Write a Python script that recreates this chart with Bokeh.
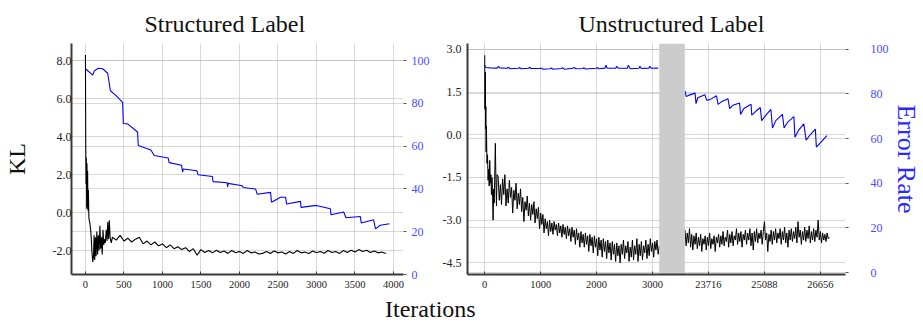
from bokeh.plotting import figure
from bokeh.models import Range1d, LinearAxis, FixedTicker, PrintfTickFormatter, Grid, Div
from bokeh.layouts import row, column
from bokeh.embed import file_html
from bokeh.resources import INLINE

FONT = "Liberation Serif"
GRID_C = "#b0b0b0"
BLUE = "#0000ff"
BLUE_TXT = "#4a4aff"

# ---------------- data: Structured Label ----------------
left_xticks = [0, 500, 1000, 1500, 2000, 2500, 3000, 3500, 4000]
left_kl_ticks = [-2, 0, 2, 4, 6, 8]
err_ticks = [0, 20, 40, 60, 80, 100]

s_err_x = [0, 95, 117, 168, 224, 289, 324, 397, 483, 492, 548, 677, 686, 850, 893,
           1074, 1087, 1247, 1262, 1269, 1446, 1463, 1648, 1657, 1842, 1846, 1852,
           2037, 2048, 2209, 2231, 2404, 2416, 2533, 2600, 2611, 2792, 2800, 2999,
           3180, 3189, 3353, 3383, 3569, 3582, 3741, 3767, 3827, 3948]
s_err_y = [96.2, 93.2, 95.3, 96.4, 96.2, 94.1, 85.9, 83.6, 80.5, 70.6, 70.4, 66.6, 60.3, 58.2, 55.6,
           54.5, 52.3, 51.1, 47.8, 49.3, 48.5, 46.6, 45.8, 43.4, 42.9, 40.9, 42.6,
           41.5, 40.7, 40.0, 37.5, 38.4, 33.8, 36.1, 36.1, 33.0, 34.2, 31.4, 32.3,
           30.7, 27.9, 29.2, 26.5, 27.1, 24.1, 25.6, 21.3, 23.0, 23.7]

s_kl_x = [0, 4, 8, 12, 16, 20, 24, 28, 33, 38, 45, 55, 65, 75, 85, 95, 105, 112, 120, 130,
          138, 148, 158, 168, 178, 188, 198, 208, 218, 228, 238, 248, 258, 270, 280, 290,
          300, 310, 320, 335] + list(range(350, 3901, 50))
s_kl_y = [8.3, 3.5, 1.5, 2.9, 0.2, 2.6, 0.3, 2.2, 0.1, 1.2, -0.3, -0.5, -0.8, -1.3, -2.1, -2.6, -2.3, -1.2, -2.5, -1.3,
          -2.3, -1.0, -2.2, -1.2, -2.0, -0.7, -1.9, -1.3, -2.2, -0.9, -1.7, -1.4, -1.6, -0.9, -1.5, -0.5,
          -1.4, -0.4, -1.3, -1.6,
          -1.30, -1.45, -1.20, -1.50, -1.35, -1.55, -1.40, -1.30, -1.65, -1.50, -1.70, -1.55, -1.75, -1.65,
          -1.85, -1.70, -1.90, -1.80, -1.95, -1.85, -2.05, -1.90, -2.25, -1.95, -2.10, -2.00,
          -2.12, -1.98, -2.10, -2.02, -2.15, -2.00, -2.12, -2.05, -2.15, -2.00, -2.12, -2.08,
          -2.18, -2.15, -2.05, -2.15, -2.02, -2.12, -2.08, -2.18, -2.05, -2.15, -2.00, -2.12,
          -2.08, -2.15, -2.02, -2.12, -2.05, -2.14, -2.00, -2.10, -2.05, -2.15, -2.00, -2.10,
          -1.98, -2.08, -1.95, -2.05, -1.98, -2.10, -2.02, -2.12, -2.08, -2.15]

# ---------------- data: Unstructured Label (broken x axis) ----------------
# positions on the broken axis; tick labels give the iteration numbers
right_xticks = [0, 1000, 2000, 3000, 4000, 5000, 6000]
right_xlabels = ["0", "1000", "2000", "3000", "23716", "25088", "26656"]
right_kl_ticks = [-4.5, -3.0, -1.5, 0.0, 1.5, 3.0]
gap_start, gap_end = 3120, 3576

u_err1_x = [0, 15, 100, 224, 240, 270, 401, 420, 450, 607, 620, 650, 784, 800, 830, 990, 1010, 1040,
            1167, 1190, 1220, 1373, 1390, 1420, 1579, 1600, 1630, 1756, 1770, 1800, 1992, 2010, 2040,
            2151, 2165, 2190, 2345, 2360, 2390, 2552, 2565, 2600, 2758, 2772, 2800, 2935, 2950, 2980, 3100]
u_err1_y = [92.8, 91.8, 91.6, 91.5, 92.2, 91.6, 91.4, 91.9, 91.2, 91.4, 91.8, 91.2, 91.4, 91.9, 91.3, 91.3, 91.6, 91.0,
            91.2, 91.6, 91.0, 91.3, 91.7, 91.0, 91.4, 91.8, 91.2, 91.3, 91.7, 91.1, 91.4, 91.8, 91.2,
            91.5, 92.8, 91.4, 91.5, 92.3, 91.4, 91.5, 92.8, 91.2, 91.4, 92.4, 91.3, 91.5, 92.3, 91.4, 91.5]

u_err2_x = [3580, 3600, 3642, 3760, 3777, 3807, 3936, 3966, 4025, 4143, 4172, 4231, 4349, 4378, 4437,
            4555, 4573, 4632, 4761, 4773, 4850, 4926, 4950, 5027, 5115, 5144, 5203, 5321, 5351, 5410,
            5527, 5545, 5616, 5704, 5745, 5822, 5910, 5928, 6028, 6117]
u_err2_y = [81.3, 78.8, 79.3, 80.3, 75.6, 78.2, 79.6, 77.1, 77.4, 79.1, 75.3, 76.4, 77.8, 73.4, 74.9,
            75.9, 70.8, 73.4, 75.3, 70.5, 72.3, 73.9, 68.0, 70.5, 73.0, 64.7, 68.0, 70.8, 64.7, 67.2,
            69.8, 60.6, 63.9, 66.6, 59.3, 61.8, 64.2, 56.2, 58.8, 61.3]

u_kl1_x = [0, 5, 10, 15, 20, 25, 30, 40, 50, 60, 70, 80, 90, 100, 110, 120, 130, 140, 150, 160,
           170, 180, 190, 200, 210, 220] + list(range(240, 3121, 20))
u_kl1_y = [2.8, 0.9, 2.2, 0.2, 1.0, -0.6, 0.3, -1.0, -0.7, -1.6, -1.2, -1.8, -0.9, -1.7, -1.4, -2.1, -1.5, -2.2, -3.0, -1.9,
           -2.4, -1.3, -0.3, -1.6, -2.5, -1.4,
           -1.45, -2.30, -1.75, -2.45, -1.55, -2.10, -1.40, -2.50, -1.90, -2.40,
           -1.60, -2.20, -1.85, -2.75, -1.95, -2.30, -1.70, -2.60, -2.05, -2.45,
           -1.90, -2.70, -2.20, -3.05, -2.35, -2.65, -2.15, -2.85, -2.40, -3.00,
           -2.45, -2.80, -2.35, -3.10, -2.60, -2.95, -2.55, -3.30, -2.75, -3.15,
           -2.80, -3.45, -2.95, -3.30, -3.05, -3.55, -3.00, -3.40, -3.10, -3.50,
           -3.05, -3.35, -3.15, -3.55, -3.10, -3.45, -3.20, -3.60, -3.15, -3.50,
           -3.25, -3.65, -3.20, -3.55, -3.30, -3.75, -3.25, -3.60, -3.35, -3.85,
           -3.30, -3.70, -3.45, -3.95, -3.40, -3.80, -3.50, -3.95, -3.45, -3.85,
           -3.55, -4.10, -3.50, -3.90, -3.60, -4.15, -3.55, -3.95, -3.65, -4.25,
           -3.60, -4.05, -3.70, -4.30, -3.65, -4.10, -3.75, -4.35, -3.70, -4.15,
           -3.80, -4.40, -3.75, -4.20, -3.85, -4.45, -3.80, -4.25, -3.90, -4.50,
           -3.85, -4.20, -3.70, -4.35, -3.90, -4.15, -3.75, -4.45, -3.95, -4.30,
           -3.70, -4.40, -3.90, -4.20, -3.65, -4.45, -3.85, -4.25, -3.75, -4.40,
           -3.90, -4.15, -3.70, -4.35, -3.85, -4.25, -3.65, -4.10, -3.80, -4.30,
           -3.75, -4.05, -3.70, -4.20, -3.90]

u_kl2_x = list(range(3580, 6161, 20))
u_kl2_y = [-3.35, -3.90, -3.45, -3.80, -3.30, -3.95, -3.50, -4.05, -3.55, -3.85,
           -3.45, -4.00, -3.60, -3.90, -3.50, -4.10, -3.65, -3.85, -3.55, -4.05,
           -3.60, -3.90, -3.45, -4.00, -3.65, -3.85, -3.55, -4.10, -3.60, -3.80,
           -3.50, -3.95, -3.55, -3.85, -3.40, -3.90, -3.60, -3.75, -3.35, -3.95,
           -3.50, -3.80, -3.40, -3.90, -3.55, -3.70, -3.30, -3.85, -3.45, -3.75,
           -3.40, -3.95, -3.50, -3.70, -3.35, -3.85, -3.45, -3.70, -3.30, -3.90,
           -3.45, -4.05, -3.40, -3.75, -3.30, -3.80, -3.45, -3.65, -3.35, -3.85,
           -3.40, -3.05, -3.70, -3.45, -4.10, -3.50, -3.75, -3.35, -3.85, -3.40,
           -3.70, -3.30, -3.80, -3.45, -3.65, -3.30, -3.85, -3.40, -3.70, -3.25,
           -3.80, -3.45, -3.95, -3.35, -3.70, -3.30, -3.75, -3.40, -3.65, -3.25,
           -3.80, -3.05, -3.60, -3.35, -3.85, -3.40, -3.70, -3.25, -3.75, -3.35,
           -3.65, -3.20, -3.80, -3.40, -3.70, -3.30, -3.75, -3.35, -3.60, -3.00,
           -3.70, -3.40, -3.80, -3.45, -3.70, -3.50, -3.75, -3.45, -3.65, -3.60]


def make_fig(title, width, x_rng, y_rng, err_rng, xticks, kl_ticks, b_left, b_right,
             right_standoff, title_offset):
    p = figure(width=width, height=295, x_range=Range1d(*x_rng), y_range=Range1d(*y_rng),
               output_backend="svg", toolbar_location=None,
               min_border_left=b_left, min_border_right=b_right, min_border_top=43, min_border_bottom=21)
    p.outline_line_color = None
    p.background_fill_color = "white"
    p.title.text = title
    p.title.align = "left"
    p.title.offset = title_offset
    p.title.text_font = FONT
    p.title.text_font_size = "24px"
    p.title.text_font_style = "normal"
    p.title.text_color = "#111111"
    p.title.standoff = 14
    p.extra_y_ranges = {"err": Range1d(*err_rng)}

    xax = p.below[0]
    yax = p.left[0]
    xt = FixedTicker(ticks=xticks)
    xax.ticker = xt
    p.xgrid.ticker = xt
    kt = FixedTicker(ticks=kl_ticks)
    yax.ticker = kt
    p.ygrid.ticker = kt
    yax.formatter = PrintfTickFormatter(format="%.1f")

    for ax in (xax, yax):
        ax.axis_line_color = "#3a3a3a"
        ax.axis_line_width = 2
        ax.major_label_text_font = FONT
        ax.major_label_text_color = "#222222"
        ax.minor_tick_line_color = None
        ax.minor_tick_in = 0
        ax.minor_tick_out = 0
    xax.major_label_text_font_size = "10.5px"
    yax.major_label_text_font_size = "12px"
    xax.major_tick_in = 3
    xax.major_tick_out = 0
    xax.major_tick_line_color = "#3a3a3a"
    xax.major_label_standoff = 6
    yax.major_tick_line_color = None
    yax.major_tick_in = 0
    yax.major_tick_out = 0
    yax.major_label_standoff = 7

    for g in (p.xgrid[0], p.ygrid[0]):
        g.grid_line_color = GRID_C
        g.grid_line_dash = "1 1"
        g.grid_line_width = 1

    et = FixedTicker(ticks=err_ticks)
    rax = LinearAxis(y_range_name="err", ticker=et)
    rax.axis_line_color = None
    rax.major_tick_line_color = "#555555"
    rax.major_tick_out = 3
    rax.major_tick_in = 0
    rax.minor_tick_line_color = None
    rax.minor_tick_in = 0
    rax.minor_tick_out = 0
    rax.major_label_text_font = FONT
    rax.major_label_text_font_size = "12px"
    rax.major_label_text_color = BLUE_TXT
    rax.major_label_standoff = right_standoff
    p.add_layout(rax, "right")
    eg = Grid(dimension=1, ticker=et, y_range_name="err", grid_line_color=GRID_C,
              grid_line_dash="1 1", grid_line_width=1)
    p.add_layout(eg)
    return p, xax, yax, rax


p1, x1, y1, r1 = make_fig("Structured Label", 435, (-181, 4130), (-3.26, 8.9), (0, 108),
                          left_xticks, left_kl_ticks, 70, 32, 5, 73)
y1.major_label_standoff = 0
y1.axis_label = "KL"
y1.axis_label_text_font = FONT
y1.axis_label_text_font_size = "24px"
y1.axis_label_text_font_style = "normal"
y1.axis_label_text_color = "#111111"
y1.axis_label_standoff = 20
p1.line(s_err_x, s_err_y, y_range_name="err", line_color=BLUE, line_width=1.1)
p1.line(s_kl_x, s_kl_y, line_color="black", line_width=1.1)

p2, x2, y2, r2 = make_fig("Unstructured Label", 488, (-308, 6449), (-4.91, 3.21), (-0.8, 102.5),
                          right_xticks, right_kl_ticks, 32, 76, 22, 111)
y2.major_label_standoff = 6
x2.major_label_overrides = {t: lab for t, lab in zip(right_xticks, right_xlabels)}
r2.axis_label = "Error Rate"
r2.axis_label_text_font = FONT
r2.axis_label_text_font_size = "26px"
r2.axis_label_text_font_style = "normal"
r2.axis_label_text_color = "#2a2aff"
r2.axis_label_standoff = 0
p2.line(u_err1_x, u_err1_y, y_range_name="err", line_color=BLUE, line_width=1.1)
p2.line(u_err2_x, u_err2_y, y_range_name="err", line_color=BLUE, line_width=1.1)
p2.line(u_kl1_x, u_kl1_y, line_color="black", line_width=1.0)
p2.line(u_kl2_x, u_kl2_y, line_color="black", line_width=1.0)
p2.quad(left=[gap_start], right=[gap_end], bottom=[-4.91], top=[3.21],
        fill_color="#cccccc", line_color=None)

xlabel = Div(text="Iterations", width=150, height=28, margin=(0, 0, 0, 385),
             styles={"font-family": FONT, "font-size": "24px", "line-height": "28px", "color": "#111111"})

layout = column(row(p1, p2), xlabel)
open("out.html", "w").write(file_html(layout, INLINE))
